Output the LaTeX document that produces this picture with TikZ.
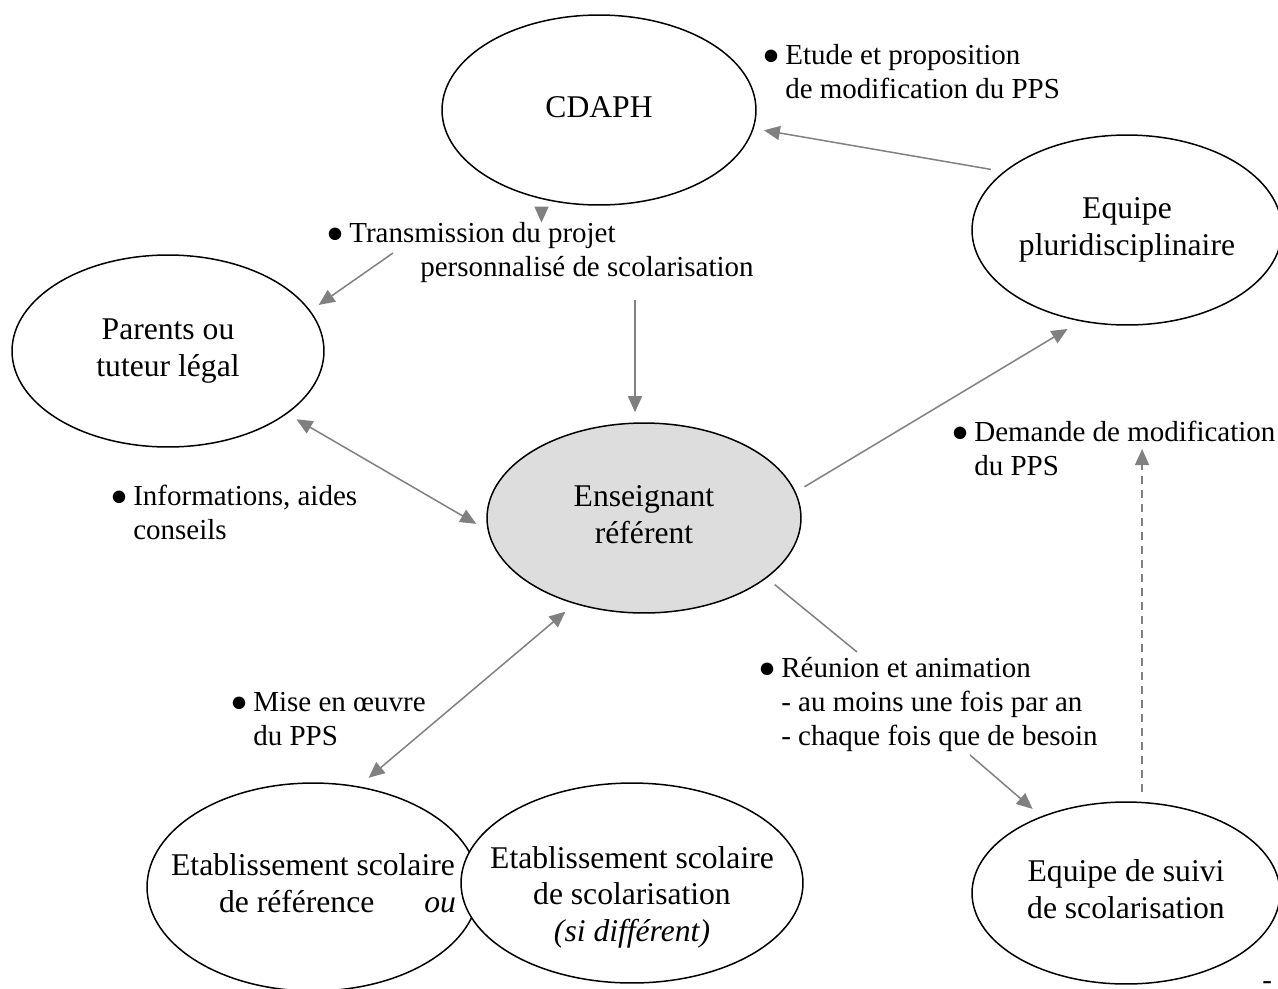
\documentclass[tikz,border=0pt]{standalone}
\usepackage{fontspec}
\setmainfont{Liberation Serif}
\usetikzlibrary{arrows.meta,shapes.geometric}

\definecolor{gris}{RGB}{128,128,128}
\definecolor{grisclair}{RGB}{221,221,221}

\newcommand{\dedans}[1]{\makebox[0pt]{\begin{tabular}{@{}c@{}}#1\end{tabular}}}
\newcommand{\puce}{\makebox[0.46cm][l]{●}}
\newcommand{\retrait}{\hspace*{0.46cm}}

\tikzset{
  ovale/.style={ellipse, draw, line width=0.03cm, fill=white, inner sep=0pt,
    outer sep=0.22cm, font=\fontsize{18}{21}\selectfont},
  etiquette/.style={anchor=base west, align=left, inner sep=0pt,
    font=\fontsize{16.5}{19.35}\selectfont},
  fleche/.style={color=gris, line width=0.03cm}
}

\begin{document}
\begin{tikzpicture}[x=0.02cm, y=-0.02cm, >={Triangle[length=0.32cm,width=0.28cm]}]
    \clip (0,0) rectangle (1278,988);

    % ellipses
    \node[ovale, minimum width=6.28cm, minimum height=3.8cm] (cdaph) at (599,110) {\dedans{CDAPH}};
    \node[ovale, minimum width=6.2cm, minimum height=3.8cm] (pluri) at (1127,230) {\dedans{Equipe\\pluridisciplinaire}};
    \node[ovale, minimum width=6.24cm, minimum height=3.84cm] (parents) at (168,351) {\dedans{Parents ou\\tuteur légal}};
    \node[ovale, fill=grisclair, minimum width=6.28cm, minimum height=3.8cm] (ens) at (644,518) {\dedans{Enseignant\\référent}};
    \node[ovale, minimum width=6.64cm, minimum height=4.16cm] (etabref) at (313,887)
        {\dedans{Etablissement scolaire\\\hspace*{0.98cm}de référence\hspace{1cm}\textit{ou}}};
    \node[ovale, minimum width=6.84cm, minimum height=4cm] (etabscol) at (632,883)
        {\dedans{\rule{0pt}{1.1cm}Etablissement scolaire\\de scolarisation\\\textit{(si différent)}}};
    \node[ovale, minimum width=6.16cm, minimum height=3.64cm] (suivi) at (1126,893) {\dedans{Equipe de suivi\\de scolarisation}};

    % textes (ancre sur la derniere ligne)
    \node[etiquette] (etude) at (762,98) {\puce Etude et proposition\\\retrait de modification du PPS};
    \node[etiquette] (transmission) at (326,276) {\puce Transmission du projet\\\hspace*{1.88cm}personnalisé de scolarisation};
    \node[etiquette] (informations) at (110,539) {\puce Informations, aides\\\retrait conseils};
    \node[etiquette] (demande) at (951,475) {\puce Demande de modification\\\retrait du PPS};
    \node[etiquette] (reunion) at (758,745) {\puce Réunion et animation\\\retrait - au moins une fois par an\\\retrait - chaque fois que de besoin};
    \node[etiquette] (mise) at (230,745) {\puce Mise en œuvre\\\retrait du PPS};
    \node[etiquette] (tiret) at (1262,989) {-};

    % points libres
    \coordinate (transmission-g) at (393,253);
    \coordinate (transmission-b) at (635,300);
    \coordinate (demande-b) at (1141,449);
    \coordinate (reunion-h) at (857,652);
    \coordinate (reunion-b) at (970,755);

    % fleches
    \draw[fleche, ->] (pluri.156) -- (cdaph.-7);
    \draw[fleche, ->] (cdaph.-120) -- ++(0,13);
    \draw[fleche, ->] (transmission-g) -- (parents.17);
    \draw[fleche, ->] (transmission-b) -- (transmission-b |- ens.95);
    \draw[fleche, <->] (parents.-28) -- (ens.182);
    \draw[fleche, ->] (ens.11) -- (pluri.-121);
    \draw[fleche, ->, dash pattern=on 0.16cm off 0.12cm] (suivi.81) -- (suivi.81 |- demande-b);
    \draw[fleche] (ens.-27) -- (reunion-h);
    \draw[fleche, ->] (reunion-b) -- (suivi.138);
    \draw[fleche, <->] (ens.230) -- (etabref.63);
\end{tikzpicture}
\end{document}
